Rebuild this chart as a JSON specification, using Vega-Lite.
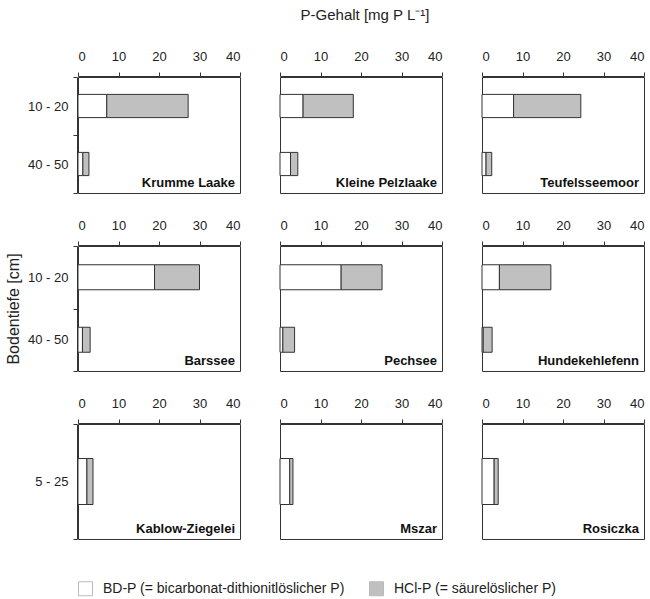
{
  "$schema": "https://vega.github.io/schema/vega-lite/v6.json",
  "background": "white",
  "padding": {"left": 5, "top": 8, "right": 5, "bottom": 5},
  "title": {"text": "P-Gehalt [mg P L⁻¹]", "fontSize": 15, "fontWeight": "normal", "font": "Liberation Sans", "color": "#222", "anchor": "middle", "offset": 27, "dx": 40},
  "datasets": {
    "p": [
      {"panel": "Krumme Laake", "row": 1, "depth": "10 - 20", "part": "BD-P (= bicarbonat-dithionitlöslicher P)", "value": 7.1},
      {"panel": "Krumme Laake", "row": 1, "depth": "10 - 20", "part": "HCl-P (= säurelöslicher P)", "value": 20.1},
      {"panel": "Krumme Laake", "row": 1, "depth": "40 - 50", "part": "BD-P (= bicarbonat-dithionitlöslicher P)", "value": 1.2},
      {"panel": "Krumme Laake", "row": 1, "depth": "40 - 50", "part": "HCl-P (= säurelöslicher P)", "value": 1.5},
      {"panel": "Kleine Pelzlaake", "row": 1, "depth": "10 - 20", "part": "BD-P (= bicarbonat-dithionitlöslicher P)", "value": 5.7},
      {"panel": "Kleine Pelzlaake", "row": 1, "depth": "10 - 20", "part": "HCl-P (= säurelöslicher P)", "value": 12.4},
      {"panel": "Kleine Pelzlaake", "row": 1, "depth": "40 - 50", "part": "BD-P (= bicarbonat-dithionitlöslicher P)", "value": 2.6},
      {"panel": "Kleine Pelzlaake", "row": 1, "depth": "40 - 50", "part": "HCl-P (= säurelöslicher P)", "value": 1.8},
      {"panel": "Teufelsseemoor", "row": 1, "depth": "10 - 20", "part": "BD-P (= bicarbonat-dithionitlöslicher P)", "value": 7.8},
      {"panel": "Teufelsseemoor", "row": 1, "depth": "10 - 20", "part": "HCl-P (= säurelöslicher P)", "value": 16.6},
      {"panel": "Teufelsseemoor", "row": 1, "depth": "40 - 50", "part": "BD-P (= bicarbonat-dithionitlöslicher P)", "value": 1.0},
      {"panel": "Teufelsseemoor", "row": 1, "depth": "40 - 50", "part": "HCl-P (= säurelöslicher P)", "value": 1.4},
      {"panel": "Barssee", "row": 2, "depth": "10 - 20", "part": "BD-P (= bicarbonat-dithionitlöslicher P)", "value": 18.9},
      {"panel": "Barssee", "row": 2, "depth": "10 - 20", "part": "HCl-P (= säurelöslicher P)", "value": 11.1},
      {"panel": "Barssee", "row": 2, "depth": "40 - 50", "part": "BD-P (= bicarbonat-dithionitlöslicher P)", "value": 1.1},
      {"panel": "Barssee", "row": 2, "depth": "40 - 50", "part": "HCl-P (= säurelöslicher P)", "value": 1.9},
      {"panel": "Pechsee", "row": 2, "depth": "10 - 20", "part": "BD-P (= bicarbonat-dithionitlöslicher P)", "value": 15.1},
      {"panel": "Pechsee", "row": 2, "depth": "10 - 20", "part": "HCl-P (= säurelöslicher P)", "value": 10.1},
      {"panel": "Pechsee", "row": 2, "depth": "40 - 50", "part": "BD-P (= bicarbonat-dithionitlöslicher P)", "value": 0.7},
      {"panel": "Pechsee", "row": 2, "depth": "40 - 50", "part": "HCl-P (= säurelöslicher P)", "value": 2.9},
      {"panel": "Hundekehlefenn", "row": 2, "depth": "10 - 20", "part": "BD-P (= bicarbonat-dithionitlöslicher P)", "value": 4.3},
      {"panel": "Hundekehlefenn", "row": 2, "depth": "10 - 20", "part": "HCl-P (= säurelöslicher P)", "value": 12.7},
      {"panel": "Hundekehlefenn", "row": 2, "depth": "40 - 50", "part": "BD-P (= bicarbonat-dithionitlöslicher P)", "value": 0.3},
      {"panel": "Hundekehlefenn", "row": 2, "depth": "40 - 50", "part": "HCl-P (= säurelöslicher P)", "value": 2.2},
      {"panel": "Kablow-Ziegelei", "row": 3, "depth": "5 - 25", "part": "BD-P (= bicarbonat-dithionitlöslicher P)", "value": 2.2},
      {"panel": "Kablow-Ziegelei", "row": 3, "depth": "5 - 25", "part": "HCl-P (= säurelöslicher P)", "value": 1.5},
      {"panel": "Mszar", "row": 3, "depth": "5 - 25", "part": "BD-P (= bicarbonat-dithionitlöslicher P)", "value": 2.4},
      {"panel": "Mszar", "row": 3, "depth": "5 - 25", "part": "HCl-P (= säurelöslicher P)", "value": 0.8},
      {"panel": "Rosiczka", "row": 3, "depth": "5 - 25", "part": "BD-P (= bicarbonat-dithionitlöslicher P)", "value": 3.0},
      {"panel": "Rosiczka", "row": 3, "depth": "5 - 25", "part": "HCl-P (= säurelöslicher P)", "value": 1.0}
    ]
  },
  "spacing": 25,
  "vconcat": [
    {
      "data": {"name": "p"},
      "transform": [{"filter": "datum.row == 1"}],
      "facet": {"column": {"field": "panel", "title": null, "sort": ["Krumme Laake", "Kleine Pelzlaake", "Teufelsseemoor"], "header": {"labels": false, "title": null}}},
      "spacing": {"column": 38},
      "spec": {
        "width": 162, "height": 116,
        "layer": [
          {
            "mark": {"type": "bar", "stroke": "#333", "strokeWidth": 1, "height": {"band": 0.4}},
            "encoding": {
              "y": {"field": "depth", "type": "nominal", "sort": "ascending", "scale": {"paddingInner": 0, "paddingOuter": 0}, "axis": {"title": null, "tickBand": "extent"}},
              "x": {"field": "value", "type": "quantitative", "stack": "zero", "scale": {"domain": [0, 40], "nice": false}, "axis": {"orient": "top", "values": [0, 10, 20, 30, 40], "title": null}},
              "color": {"field": "part", "type": "nominal", "scale": {"domain": ["BD-P (= bicarbonat-dithionitlöslicher P)", "HCl-P (= säurelöslicher P)"], "range": ["#ffffff", "#c0c0c0"]}, "legend": {"title": null}}
            }
          },
          {
            "transform": [{"filter": "datum.depth != '10 - 20' && indexof(datum.part, 'HCl') == 0"}],
            "mark": {"type": "text", "align": "right", "baseline": "bottom", "dx": -5, "dy": -3, "fontWeight": "bold", "fontSize": 13, "font": "Liberation Sans", "color": "#111"},
            "encoding": {"text": {"field": "panel"}, "x": {"datum": 40}, "y": {"value": "height"}}
          }
        ]
      }
    },
    {
      "data": {"name": "p"},
      "transform": [{"filter": "datum.row == 2"}],
      "facet": {"column": {"field": "panel", "title": null, "sort": ["Barssee", "Pechsee", "Hundekehlefenn"], "header": {"labels": false, "title": null}}},
      "spacing": {"column": 38},
      "spec": {
        "width": 162, "height": 125,
        "layer": [
          {
            "mark": {"type": "bar", "stroke": "#333", "strokeWidth": 1, "height": {"band": 0.4}},
            "encoding": {
              "y": {"field": "depth", "type": "nominal", "sort": "ascending", "scale": {"paddingInner": 0, "paddingOuter": 0}, "axis": {"title": "Bodentiefe [cm]", "tickBand": "extent"}},
              "x": {"field": "value", "type": "quantitative", "stack": "zero", "scale": {"domain": [0, 40], "nice": false}, "axis": {"orient": "top", "values": [0, 10, 20, 30, 40], "title": null}},
              "color": {"field": "part", "type": "nominal", "scale": {"domain": ["BD-P (= bicarbonat-dithionitlöslicher P)", "HCl-P (= säurelöslicher P)"], "range": ["#ffffff", "#c0c0c0"]}, "legend": {"title": null}}
            }
          },
          {
            "transform": [{"filter": "datum.depth != '10 - 20' && indexof(datum.part, 'HCl') == 0"}],
            "mark": {"type": "text", "align": "right", "baseline": "bottom", "dx": -5, "dy": -3, "fontWeight": "bold", "fontSize": 13, "font": "Liberation Sans", "color": "#111"},
            "encoding": {"text": {"field": "panel"}, "x": {"datum": 40}, "y": {"value": "height"}}
          }
        ]
      }
    },
    {
      "data": {"name": "p"},
      "transform": [{"filter": "datum.row == 3"}],
      "facet": {"column": {"field": "panel", "title": null, "sort": ["Kablow-Ziegelei", "Mszar", "Rosiczka"], "header": {"labels": false, "title": null}}},
      "spacing": {"column": 38},
      "spec": {
        "width": 162, "height": 115,
        "layer": [
          {
            "mark": {"type": "bar", "stroke": "#333", "strokeWidth": 1, "height": {"band": 0.4}},
            "encoding": {
              "y": {"field": "depth", "type": "nominal", "sort": "ascending", "scale": {"paddingInner": 0, "paddingOuter": 0}, "axis": {"title": null, "tickBand": "extent"}},
              "x": {"field": "value", "type": "quantitative", "stack": "zero", "scale": {"domain": [0, 40], "nice": false}, "axis": {"orient": "top", "values": [0, 10, 20, 30, 40], "title": null}},
              "color": {"field": "part", "type": "nominal", "scale": {"domain": ["BD-P (= bicarbonat-dithionitlöslicher P)", "HCl-P (= säurelöslicher P)"], "range": ["#ffffff", "#c0c0c0"]}, "legend": {"title": null}}
            }
          },
          {
            "transform": [{"filter": "indexof(datum.part, 'HCl') == 0"}],
            "mark": {"type": "text", "align": "right", "baseline": "bottom", "dx": -5, "dy": -3, "fontWeight": "bold", "fontSize": 13, "font": "Liberation Sans", "color": "#111"},
            "encoding": {"text": {"field": "panel"}, "x": {"datum": 40}, "y": {"value": "height"}}
          }
        ]
      }
    }
  ],
  "config": {
    "font": "Liberation Sans",
    "view": {"stroke": "#333", "strokeWidth": 1},
    "axis": {"labelFont": "Liberation Sans", "labelFontSize": 13, "labelColor": "#222", "domainColor": "#333", "tickColor": "#333", "grid": false, "tickSize": 4, "titleFont": "Liberation Sans", "titleFontSize": 16, "titleFontWeight": "normal", "titleColor": "#222"},
    "axisX": {"labelPadding": 9, "labelAngle": 0},
    "axisY": {"labelPadding": 5, "titlePadding": 6},
    "legend": {"orient": "bottom", "direction": "horizontal", "symbolType": "square", "symbolSize": 196, "symbolStrokeColor": "#bbb", "symbolStrokeWidth": 1, "labelFont": "Liberation Sans", "labelFontSize": 14, "labelColor": "#222", "columnPadding": 22, "labelOffset": 10, "padding": 0, "offset": 41, "labelLimit": 400}
  }
}
